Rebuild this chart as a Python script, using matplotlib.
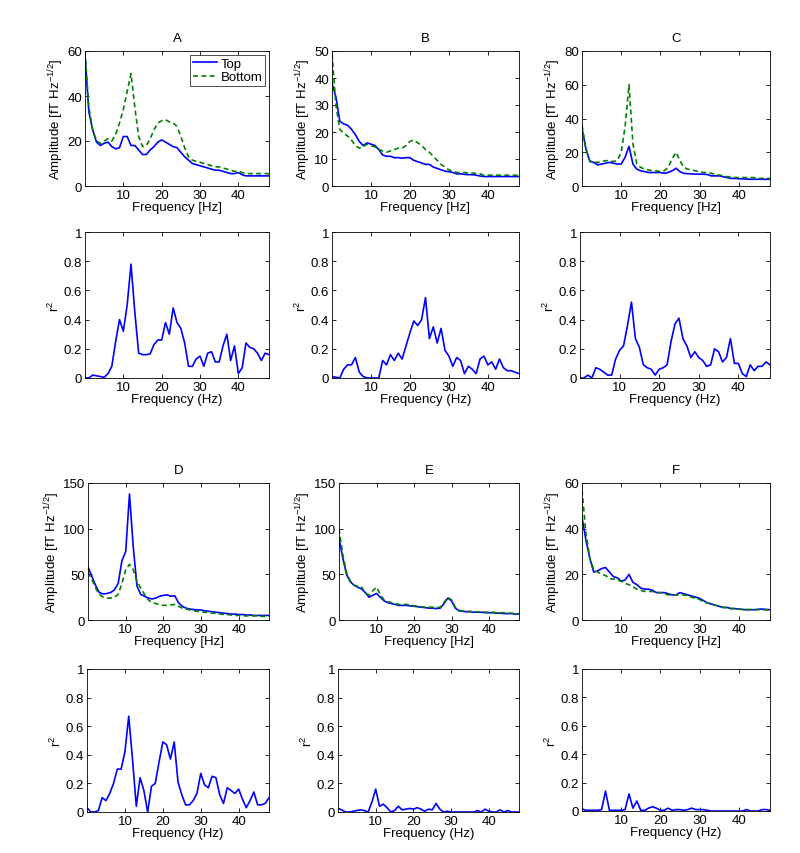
import numpy as np
import matplotlib
matplotlib.use('Agg')
import matplotlib.pyplot as plt

plt.rcParams['font.family'] = ['Liberation Sans', 'DejaVu Sans']
plt.rcParams['mathtext.fontset'] = 'custom'
plt.rcParams['mathtext.rm'] = 'Liberation Sans'
plt.rcParams['mathtext.it'] = 'Liberation Sans'

freq = np.arange(0, 49)

# amplitude spectra (fT Hz^-1/2), top / bottom
amp_A_top = [58, 33, 25, 19.5, 18, 19, 19.5, 17.5, 16.5, 17, 22, 22, 18, 18, 16, 14, 14, 16, 17.5, 19.5,
             20.5, 19.5, 18.5, 17.5, 17, 15, 13, 11.5, 10, 9.5, 9, 8.5, 8, 7.5, 7, 7, 6.5, 6, 5.5, 5.5,
             6, 5, 4.5, 4.5, 4.5, 4.5, 4.5, 4.5, 4.5]
amp_A_bot = [60, 35, 25, 20, 19, 20, 21, 20, 23, 28, 34, 42, 50, 35, 22, 17.5, 18, 21, 25, 28,
             29, 29.5, 28.5, 28, 26.5, 22, 17, 13, 11.5, 11, 10.5, 10, 9.5, 9, 8.5, 8.5, 8, 7.5, 7, 6.5,
             6.5, 6, 5.5, 5.5, 5.5, 5.5, 5.5, 5.5, 5.5]
amp_B_top = [38, 33, 24, 23, 22.5, 21, 19, 16.5, 15, 16, 15.5, 15, 13.5, 11.5, 11, 11, 10.5, 10.5, 10.3, 10.5,
             10.5, 9.5, 9, 8.5, 8, 8, 7, 6.5, 6, 5.5, 5.3, 5, 4.5, 4.5, 4.3, 4.2, 4.2, 4, 3.7, 3.5,
             3.5, 3.5, 3.5, 3.5, 3.5, 3.5, 3.5, 3.5, 3.5]
amp_B_bot = [49, 30, 21, 19.5, 18.5, 17, 15, 14, 14.5, 15.5, 15, 14.5, 13.5, 13, 12.5, 13, 13.5, 14, 14, 15,
             16.5, 17, 16, 15, 13.5, 12.5, 11, 9.5, 8, 7, 6, 5.5, 5, 5, 5, 4.8, 4.8, 4.6, 4.5, 4,
             4, 4, 4, 4, 4, 4, 4, 4, 4]
amp_C_top = [34, 22, 14.5, 14, 12.5, 13, 13.5, 14, 13.5, 13, 13, 17, 23.5, 13, 10, 9, 8.5, 8, 8, 8,
             8, 7.5, 8, 9, 10.5, 8.5, 7.5, 7.3, 7.2, 7, 7, 7, 6.8, 6, 6, 6, 5.5, 5, 4.5, 4.5,
             4.3, 4.2, 4.1, 4, 4, 4, 4, 4, 4]
amp_C_bot = [36, 22, 15, 14, 14, 14.5, 15, 15, 14.5, 15, 20, 35, 60, 25, 13, 11, 10, 9.5, 9, 9,
             8.5, 9, 11, 16, 20, 15, 11, 10, 9.5, 9, 8.5, 8, 8, 7.5, 7, 6.5, 6, 5.5, 5.5, 5,
             5, 5, 5, 5, 5, 4.5, 4.5, 4.5, 4.5]
amp_D_top = [58, 48, 38, 30, 28.5, 29, 30, 33, 40, 65, 75, 138, 80, 37, 28, 26, 24, 23, 24, 26,
             27, 27.5, 26, 26.5, 19, 15, 13, 12, 11.5, 11, 11, 10, 9.5, 9, 8.5, 8, 7.5, 7, 6.5, 6.5,
             6, 6, 5.5, 5.5, 5, 5, 5, 5, 5]
amp_D_bot = [52, 45, 35, 28, 25, 24, 24, 25, 28, 40, 55, 61, 55, 42, 35, 28, 22, 19, 18, 17,
             16, 16, 16.5, 17, 15, 13, 12, 11, 10, 9.5, 9, 8.5, 8, 7.5, 7, 6.5, 6, 6, 5.5, 5,
             5, 4.5, 4.5, 4.5, 4.5, 4.5, 4, 4, 4]
amp_E_top = [90, 68, 50, 42, 38, 36, 34, 30, 25, 27, 29, 25, 21, 19, 18, 17, 16, 16, 16, 15.5,
             15, 14.5, 14, 13.5, 13, 13, 12.5, 13, 18, 24, 21, 13, 10, 9.5, 9, 9, 8.5, 8.5, 8.5, 8,
             8, 8, 7.5, 7.5, 7, 7, 7, 6.5, 6.5]
amp_E_bot = [100, 72, 52, 43, 38, 37, 36, 30, 27, 32, 36, 28, 22, 20, 19, 18, 17, 17, 17, 16.5,
             15.5, 15, 14.5, 14, 14, 14, 13.5, 14, 19, 25, 22, 14, 10.5, 10, 9.5, 9.5, 9, 9, 9, 8.5,
             8.5, 8.5, 8, 8, 8, 7.5, 7.5, 7, 7]
amp_F_top = [45, 35, 27, 21, 21.5, 22.5, 23, 21, 19, 18.5, 17, 17.5, 20, 16.5, 15.5, 14, 13.5, 13.5, 13, 12,
             12, 12, 11.5, 11, 11, 12, 11.5, 11, 10.5, 10, 9.5, 8.5, 7.5, 7, 6.5, 6, 5.5, 5.5, 5, 5,
             4.8, 4.6, 4.5, 4.5, 4.5, 4.7, 4.8, 4.6, 4.5]
amp_F_bot = [57, 38, 27, 22, 21, 20, 19.5, 18, 18, 17.5, 17, 16, 15.5, 14.5, 13.5, 13, 12.5, 12.5, 12.5, 12,
             12, 11.5, 11, 11, 11, 11, 11, 10.5, 10, 9.5, 9, 8, 7.5, 7, 6.5, 6, 5.5, 5.5, 5, 5,
             4.7, 4.7, 4.6, 4.6, 4.5, 4.5, 4.5, 4.5, 4.5]

# r^2 values
r2_A = [0, 0, 0.02, 0.015, 0.01, 0.005, 0.03, 0.08, 0.25, 0.40, 0.32, 0.50, 0.78, 0.45, 0.17, 0.16, 0.16,
        0.165, 0.23, 0.26, 0.26, 0.38, 0.30, 0.48, 0.38, 0.34, 0.24, 0.08, 0.08, 0.13, 0.15, 0.08, 0.17,
        0.18, 0.11, 0.11, 0.22, 0.30, 0.12, 0.22, 0.03, 0.07, 0.24, 0.21, 0.20, 0.17, 0.12, 0.17, 0.16]
r2_B = [0.01, 0.005, 0, 0.06, 0.09, 0.09, 0.14, 0.04, 0.01, 0, 0, 0, 0, 0.12, 0.09, 0.16, 0.12,
        0.17, 0.13, 0.22, 0.31, 0.39, 0.36, 0.40, 0.55, 0.27, 0.35, 0.24, 0.34, 0.19, 0.15, 0.08, 0.14,
        0.12, 0.03, 0.08, 0.06, 0.03, 0.13, 0.15, 0.09, 0.11, 0.06, 0.13, 0.07, 0.05, 0.05, 0.04, 0.03]
r2_C = [0, 0, 0.02, 0, 0.07, 0.06, 0.04, 0.02, 0.02, 0.13, 0.19, 0.22, 0.36, 0.52, 0.27, 0.21, 0.09,
        0.07, 0.06, 0.02, 0.06, 0.07, 0.09, 0.25, 0.37, 0.41, 0.27, 0.22, 0.14, 0.18, 0.14, 0.12, 0.08,
        0.09, 0.20, 0.18, 0.11, 0.14, 0.27, 0.10, 0.10, 0.03, 0.01, 0.09, 0.05, 0.08, 0.08, 0.11, 0.09]
r2_D = [0.03, 0, 0, 0.01, 0.10, 0.08, 0.13, 0.20, 0.30, 0.30, 0.42, 0.67, 0.37, 0.04, 0.24, 0.15, 0,
        0.18, 0.20, 0.35, 0.49, 0.47, 0.37, 0.49, 0.21, 0.12, 0.05, 0.05, 0.08, 0.13, 0.27, 0.19, 0.17,
        0.25, 0.24, 0.12, 0.06, 0.17, 0.15, 0.13, 0.16, 0.09, 0.03, 0.08, 0.14, 0.05, 0.05, 0.06, 0.10]
r2_E = [0.025, 0.015, 0, 0, 0.005, 0.01, 0.015, 0.01, 0, 0.07, 0.16, 0.04, 0.055, 0.03, 0, 0.01, 0.04,
        0.015, 0.02, 0.025, 0.02, 0.03, 0.02, 0.005, 0.02, 0.015, 0.06, 0.02, 0, 0.005, 0, 0, 0,
        0, 0, 0, 0, 0.01, 0, 0.02, 0.005, 0, 0, 0.015, 0, 0.01, 0, 0, 0]
r2_F = [0.015, 0.005, 0.005, 0.005, 0.005, 0.01, 0.14, 0.005, 0.005, 0.005, 0.005, 0.01, 0.12, 0.02, 0.07,
        0.005, 0.005, 0.02, 0.03, 0.02, 0.005, 0.005, 0.02, 0.005, 0.01, 0.01, 0.005, 0.01, 0.02, 0.01,
        0.01, 0.01, 0.005, 0, 0, 0, 0, 0, 0, 0, 0, 0, 0.01, 0, 0, 0, 0.01, 0.01, 0.005]

titles = ['A', 'B', 'C', 'D', 'E', 'F']
amp_top = [amp_A_top, amp_B_top, amp_C_top, amp_D_top, amp_E_top, amp_F_top]
amp_bot = [amp_A_bot, amp_B_bot, amp_C_bot, amp_D_bot, amp_E_bot, amp_F_bot]
r2_all = [r2_A, r2_B, r2_C, r2_D, r2_E, r2_F]
amp_ymax = [60, 50, 80, 150, 150, 60]
amp_ystep = [20, 10, 20, 50, 50, 20]

W, H = 800, 854
# panel rectangles in pixels (left, top, right, bottom)
amp_px = [(85, 52, 269, 187), (332, 52, 519, 187), (582, 52, 770, 187),
          (88, 484, 269, 621), (339, 484, 519, 621), (582, 484, 770, 621)]
r2_px = [(85, 233, 269, 379), (332, 233, 519, 379), (580, 233, 770, 379),
         (87, 670, 269, 813), (338, 670, 519, 813), (582, 670, 770, 812)]

fs = 9.5
blue = (0, 0, 1)
green = (0, 0.5, 0)

fig = plt.figure(figsize=(W / 100, H / 100), dpi=100)


def px_axes(r):
    l, t, rr, b = r
    return fig.add_axes([l / W, 1 - b / H, (rr - l) / W, (b - t) / H])


def style(ax):
    ax.set_xlim(0, 48)
    ax.set_xticks([10, 20, 30, 40])
    ax.tick_params(direction='in', top=True, right=True, length=3, width=0.6, labelsize=fs, pad=2)
    for s in ax.spines.values():
        s.set_linewidth(0.6)


for i in range(6):
    ax = px_axes(amp_px[i])
    ax.plot(freq, amp_top[i], color=blue, lw=1.2, label='Top')
    ax.plot(freq, amp_bot[i], color=green, lw=1.2, ls='--', dashes=(3, 2), label='Bottom')
    style(ax)
    ax.set_ylim(0, amp_ymax[i])
    ax.set_yticks(np.arange(0, amp_ymax[i] + 1, amp_ystep[i]))
    ax.set_title(titles[i], fontsize=fs, pad=7)
    ax.set_xlabel('Frequency [Hz]', fontsize=fs, labelpad=0)
    ax.set_ylabel('Amplitude [fT Hz$^{-1/2}$]', fontsize=fs, labelpad=1)
    if i == 0:
        leg = ax.legend(loc='upper right', fontsize=fs, frameon=True, fancybox=False,
                        handlelength=1.8, handletextpad=0.3, borderpad=0.2, labelspacing=0.1,
                        borderaxespad=0.3)
        leg.get_frame().set_edgecolor('black')
        leg.get_frame().set_linewidth(0.6)

    ax2 = px_axes(r2_px[i])
    ax2.plot(freq, r2_all[i], color=blue, lw=1.2)
    style(ax2)
    ax2.set_ylim(0, 1)
    ax2.set_yticks([0, 0.2, 0.4, 0.6, 0.8, 1])
    ax2.set_yticklabels(['0', '0.2', '0.4', '0.6', '0.8', '1'])
    ax2.set_xlabel('Frequency (Hz)', fontsize=fs, labelpad=0)
    ax2.set_ylabel('r$^2$', fontsize=fs, labelpad=1)

plt.savefig('out.png', dpi=100)
